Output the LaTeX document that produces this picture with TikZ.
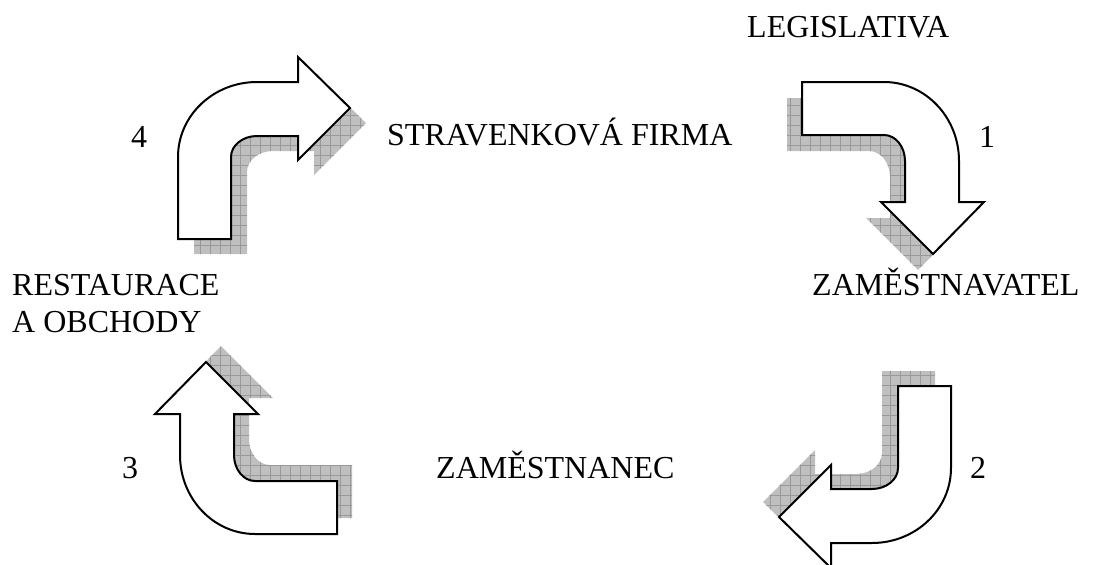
\documentclass[tikz,border=0pt]{standalone}
\usepackage{fontspec}
\setmainfont{Liberation Serif}
\usetikzlibrary{patterns.meta}
\tikzset{>=latex}

% one bent arrow, drawn as the top left one
\def\bentpath{(178,239) -- (178,157)
  arc[start angle=180, end angle=270, x radius=79, y radius=75]
  -- (298,82) -- (298,57) -- (350,108) -- (298,160) -- (298,136) -- (257,136)
  arc[start angle=270, end angle=180, x radius=26, y radius=21]
  -- (231,239) -- cycle}

\begin{document}
\begin{tikzpicture}
    [
      x=1pt, y=-1pt,
      txt/.style={font=\fontsize{32}{37}\selectfont, inner sep=0pt, anchor=base west},
      shade/.style={shift={(16,15)}, preaction={fill=gray!50},
        pattern={Hatch[angle=0, distance=10pt, line width=0.6pt]}, pattern color=black!40},
      bent/.style={draw, fill=white, line width=2pt, line join=miter}
    ]
    \clip (0,0) rectangle (1093,565);

    \node (legislativa) [txt] at (747,37) {LEGISLATIVA};
    \node (firma) [txt] at (387,145) {STRAVENKOVÁ FIRMA};
    \node (zamestnavatel) [txt] at (812,295) {ZAMĚSTNAVATEL};
    \node (zamestnanec) [txt] at (436,478) {ZAMĚSTNANEC};
    \node (restaurace) [txt, align=left] at (12,332) {RESTAURACE\\A OBCHODY};

    \node (n-1) [txt] at (979,147) {1};
    \node (n-2) [txt] at (970,478) {2};
    \node (n-3) [txt] at (122,478) {3};
    \node (n-4) [txt] at (131,147) {4};

    % arrow 4
    \begin{scope}
      \path [shade] \bentpath;
      \path [bent] \bentpath;
    \end{scope}
    % arrow 1
    \begin{scope}[shift={(1041,-96)}, rotate=-90]
      \path [shade] \bentpath;
      \path [bent] \bentpath;
    \end{scope}
    % arrow 2
    \begin{scope}[shift={(1129,625)}, rotate=180]
      \path [shade] \bentpath;
      \path [bent] \bentpath;
    \end{scope}
    % arrow 3
    \begin{scope}[shift={(98,712)}, rotate=90]
      \path [shade] \bentpath;
      \path [bent] \bentpath;
    \end{scope}
  \end{tikzpicture}
\end{document}
